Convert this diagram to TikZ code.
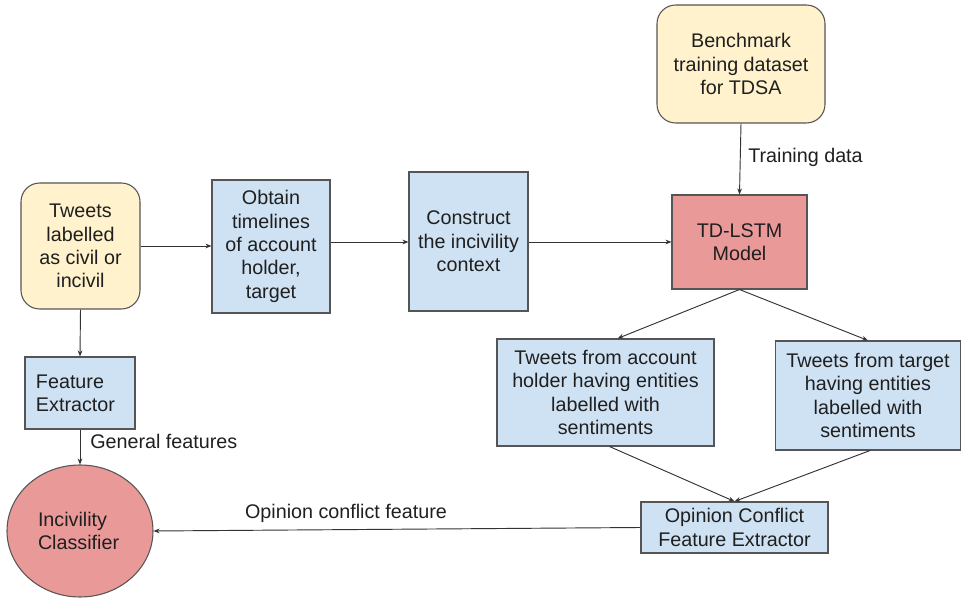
\documentclass[tikz,border=0pt]{standalone}
\usepackage{fontspec}
\setmainfont{Liberation Sans}
\usetikzlibrary{arrows.meta,shapes.geometric,calc}
\definecolor{yfill}{HTML}{FFF2CC}
\definecolor{bfill}{HTML}{CFE2F3}
\definecolor{rfill}{HTML}{EA9999}
\definecolor{bord}{HTML}{555555}
\definecolor{lin}{HTML}{333333}
\begin{document}
\begin{tikzpicture}[x=0.75pt,y=-0.75pt,
  every node/.style={font=\fontsize{14.8}{17.5}\selectfont, text=black!88, inner sep=0pt},
  ybox/.style={draw=bord, line width=0.8pt, fill=yfill, rounded corners=14pt, align=center},
  bbox/.style={draw=bord, line width=0.8pt, fill=bfill, align=center},
  rbox/.style={draw=bord, line width=0.8pt, fill=rfill, align=center},
  conn/.style={draw=lin, line width=0.7pt, -{Stealth[length=4.5pt,width=3.5pt]}},
  lbl/.style={inner sep=0pt}]
\useasboundingbox (0,0) rectangle (961,598);
% nodes
\node[ybox, minimum width=119*0.75pt, minimum height=126*0.75pt] (tw) at (80.5,246) {Tweets\\labelled\\as civil or\\incivil};
\node[bbox, minimum width=118*0.75pt, minimum height=133*0.75pt] (ob) at (271,246.5) {Obtain\\timelines\\of account\\holder,\\target};
\node[bbox, minimum width=119*0.75pt, minimum height=139*0.75pt] (co) at (468.5,241.5) {Construct\\the incivility\\context};
\node[ybox, minimum width=168*0.75pt, minimum height=118*0.75pt] (bm) at (741,64) {Benchmark\\training dataset\\for TDSA};
\node[rbox, minimum width=135*0.75pt, minimum height=94*0.75pt] (td) at (739.5,242) {TD-LSTM\\Model};
\node[bbox, minimum width=217*0.75pt, minimum height=107*0.75pt] (acc) at (605.5,392.5) {Tweets from account\\holder having entities\\labelled with\\sentiments};
\node[bbox, minimum width=185*0.75pt, minimum height=109*0.75pt] (tg) at (868,395.5) {Tweets from target\\having entities\\labelled with\\sentiments};
\node[bbox, minimum width=187*0.75pt, minimum height=51*0.75pt] (oc) at (734.5,527.5) {Opinion Conflict\\Feature Extractor};
\node[bbox, minimum width=110*0.75pt, minimum height=72*0.75pt, align=left, text width=88*0.75pt] (fe) at (80,393) {Feature\\Extractor};
\node[ellipse, draw=bord, line width=0.8pt, fill=rfill, minimum width=146*0.75pt, minimum height=132*0.75pt, align=left, text width=84*0.75pt] (ic) at (80,531) {Incivility\\Classifier};
% connectors
\draw[conn] (tw.east |- 0,246) -- (ob.west |- 0,246);
\draw[conn] (ob.east |- 0,242) -- (co.west |- 0,242);
\draw[conn] (co.east |- 0,242) -- (td.west |- 0,242);
\draw[conn] (bm.south) -- (td.north);
\draw[conn] (td.south) -- ($(acc.north)+(12,0)$);
\draw[conn] (td.south) -- (tg.north);
\draw[conn] ($(acc.south)+(4,0)$) -- (oc.north);
\draw[conn] ($(tg.south)+(2,0)$) -- (oc.north);
\draw[conn] (oc.west) -- (ic.east);
\draw[conn] (tw.south) -- (fe.north);
\draw[conn] (fe.south) -- (ic.north);
% labels
\node[lbl, anchor=west] (l1) at (748,157) {Training data};
\node[lbl, anchor=west] (l2) at (90,441) {General features};
\node[lbl] (l3) at (346,513) {Opinion conflict feature};
\end{tikzpicture}
\end{document}
